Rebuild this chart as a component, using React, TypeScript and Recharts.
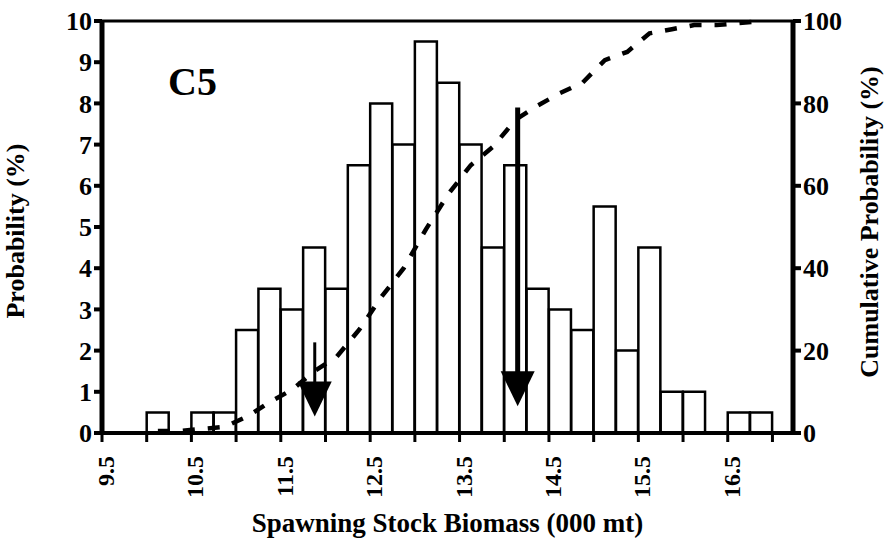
import React from 'react';
import {
  Bar,
  ComposedChart,
  Label,
  Line,
  ReferenceDot,
  ReferenceLine,
  XAxis,
  YAxis,
} from 'recharts';

// SSB histogram, 0.25 bins (bin midpoints, 000 mt)
const binMid = [
  10.125, 10.375, 10.625, 10.875, 11.125, 11.375, 11.625, 11.875, 12.125, 12.375,
  12.625, 12.875, 13.125, 13.375, 13.625, 13.875, 14.125, 14.375, 14.625, 14.875,
  15.125, 15.375, 15.625, 15.875, 16.125, 16.375, 16.625, 16.875,
];
const probability = [
  0.5, 0, 0.5, 0.5, 2.5, 3.5, 3.0, 4.5, 3.5, 6.5,
  8.0, 7.0, 9.5, 8.5, 7.0, 4.5, 6.5, 3.5, 3.0, 2.5,
  5.5, 2.0, 4.5, 1.0, 1.0, 0, 0.5, 0.5,
];
const cumulative = [
  0.5, 0.5, 1.0, 1.5, 4.0, 7.5, 10.5, 15.0, 18.5, 25.0,
  33.0, 40.0, 49.5, 58.0, 65.0, 69.5, 76.0, 79.5, 82.5, 85.0,
  90.5, 92.5, 97.0, 98.0, 99.0, 99.0, 99.5, 100.0,
];

const xTicks = [9.5, 10, 10.5, 11, 11.5, 12, 12.5, 13, 13.5, 14, 14.5, 15, 15.5, 16, 16.5, 17];
const probTicks = [0, 1, 2, 3, 4, 5, 6, 7, 8, 9, 10];
const cumTicks = [0, 20, 40, 60, 80, 100];

// reference-point arrows: x position, shaft top and tip (probability units)
const arrowX = [11.88, 14.15];
const arrowTop = [2.2, 7.9];
const arrowTip = [0.4, 0.65];
const arrowShaft = [3, 5];

const data = binMid.map((x, i) => ({ x, prob: probability[i], cum: cumulative[i] }));

const FONT = "'Liberation Serif', 'Times New Roman', serif";

const XTick = (props: any) => {
  const { x, y, payload } = props;
  if (Math.abs((payload.value % 1) - 0.5) > 1e-6) return null;
  const tx = x + 12;
  const ty = y + 12;
  return (
    <text
      x={tx}
      y={ty}
      transform={`rotate(-90, ${tx}, ${ty})`}
      textAnchor="end"
      fontFamily={FONT}
      fontWeight="bold"
      fontSize={24}
      fill="#000"
    >
      {payload.value.toFixed(1)}
    </text>
  );
};

const ArrowHead = (props: any) => {
  const { cx, cy } = props;
  return <path d={`M${cx - 17},${cy - 35} L${cx + 17},${cy - 35} L${cx},${cy} Z`} fill="#000" />;
};

const sideLabel = (text: string, dx: number, dy: number) => (p: any) => {
  const vb = p.viewBox;
  const cx = vb.x + dx;
  const cy = vb.y + vb.height / 2 + dy;
  return (
    <text
      x={cx}
      y={cy}
      transform={`rotate(-90, ${cx}, ${cy})`}
      textAnchor="middle"
      fontFamily={FONT}
      fontWeight="bold"
      fontSize={26}
      fill="#000"
    >
      {text}
    </text>
  );
};

export default function App() {
  const tickStyle = { fontFamily: FONT, fontWeight: 'bold', fontSize: 26, fill: '#000' };
  return (
    <div
      style={{
        position: 'absolute',
        left: 0,
        top: 0,
        width: 893,
        height: 548,
        background: '#fff',
        fontFamily: FONT,
      }}
    >
      <ComposedChart
        width={893}
        height={548}
        data={data}
        margin={{ top: 21, right: 0, bottom: 0, left: 0 }}
        barCategoryGap={0}
        barGap={0}
      >
        <XAxis
          dataKey="x"
          type="number"
          domain={[9.5, 17.23]}
          ticks={xTicks}
          interval={0}
          height={115}
          axisLine={{ stroke: '#000', strokeWidth: 4 }}
          tickLine={{ stroke: '#000', strokeWidth: 3 }}
          tickSize={9}
          tick={<XTick />}
        >
          <Label
            value="Spawning Stock Biomass (000 mt)"
            position="insideBottom"
            offset={16}
            style={{ fontFamily: FONT, fontWeight: 'bold', fontSize: 27, fill: '#000' }}
          />
        </XAxis>
        <YAxis
          yAxisId="p"
          domain={[0, 10]}
          ticks={probTicks}
          interval={0}
          width={102}
          axisLine={{ stroke: '#000', strokeWidth: 5 }}
          tickLine={{ stroke: '#000', strokeWidth: 4 }}
          tickSize={8}
          tick={tickStyle}
        >
          <Label content={sideLabel('Probability (%)', 24, 4)} />
        </YAxis>
        <YAxis
          yAxisId="c"
          orientation="right"
          domain={[0, 100]}
          ticks={cumTicks}
          interval={0}
          width={100}
          axisLine={{ stroke: '#000', strokeWidth: 5 }}
          tickLine={{ stroke: '#000', strokeWidth: 4 }}
          tickSize={8}
          tick={tickStyle}
        >
          <Label content={sideLabel('Cumulative Probability (%)', 85, -5)} />
        </YAxis>
        <ReferenceLine yAxisId="p" y={10} stroke="#000" strokeWidth={3} />
        <Bar
          yAxisId="p"
          dataKey="prob"
          fill="#fff"
          stroke="#000"
          strokeWidth={2.5}
          isAnimationActive={false}
        />
        <Line
          yAxisId="c"
          dataKey="cum"
          type="linear"
          stroke="#000"
          strokeWidth={4.5}
          strokeDasharray="12 13"
          dot={false}
          isAnimationActive={false}
        />
        {arrowX.map((ax, i) => (
          <ReferenceLine
            key={`s${i}`}
            yAxisId="p"
            segment={[
              { x: ax, y: arrowTop[i] },
              { x: ax, y: arrowTip[i] + 0.5 },
            ]}
            stroke="#000"
            strokeWidth={arrowShaft[i]}
          />
        ))}
        {arrowX.map((ax, i) => (
          <ReferenceDot key={`h${i}`} yAxisId="p" x={ax} y={arrowTip[i]} shape={<ArrowHead />} />
        ))}
        <text x={168} y={95} fontFamily={FONT} fontWeight="bold" fontSize={40} fill="#000">
          C5
        </text>
      </ComposedChart>
    </div>
  );
}
